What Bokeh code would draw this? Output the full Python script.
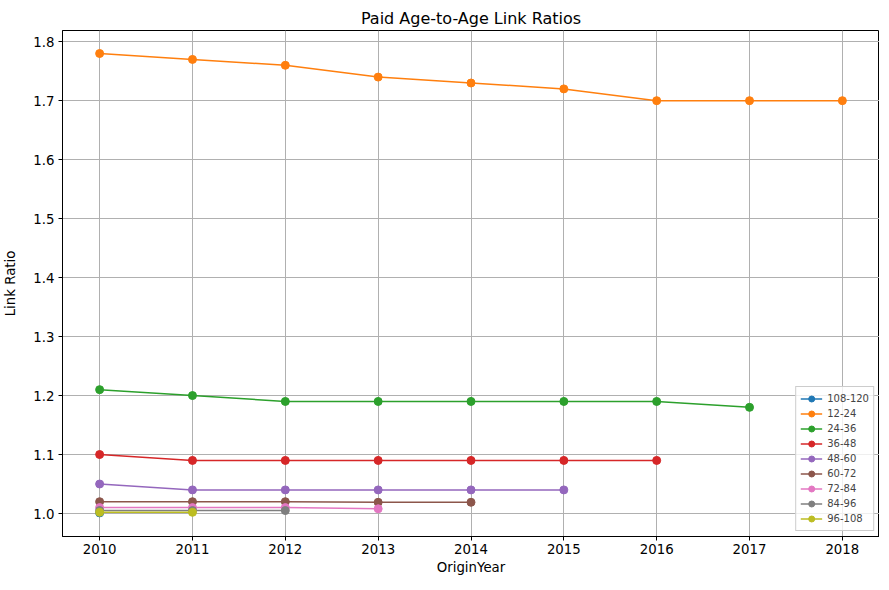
from bokeh.plotting import figure
from bokeh.models import FixedTicker, Range1d, Legend, LegendItem, PrintfTickFormatter
from bokeh.embed import file_html
from bokeh.resources import INLINE

years = [2010, 2011, 2012, 2013, 2014, 2015, 2016, 2017, 2018]

r_108_120 = [1.001]
r_12_24 = [1.78, 1.77, 1.76, 1.74, 1.73, 1.72, 1.70, 1.70, 1.70]
r_24_36 = [1.21, 1.20, 1.19, 1.19, 1.19, 1.19, 1.19, 1.18]
r_36_48 = [1.10, 1.09, 1.09, 1.09, 1.09, 1.09, 1.09]
r_48_60 = [1.05, 1.04, 1.04, 1.04, 1.04, 1.04]
r_60_72 = [1.02, 1.02, 1.02, 1.019, 1.019]
r_72_84 = [1.01, 1.01, 1.01, 1.008]
r_84_96 = [1.005, 1.005, 1.005]
r_96_108 = [1.002, 1.002]

series_names = ["108-120", "12-24", "24-36", "36-48", "48-60", "60-72", "72-84", "84-96", "96-108"]
series_vals = [r_108_120, r_12_24, r_24_36, r_36_48, r_48_60, r_60_72, r_72_84, r_84_96, r_96_108]
colors = ["#1f77b4", "#ff7f0e", "#2ca02c", "#d62728", "#9467bd",
          "#8c564b", "#e377c2", "#7f7f7f", "#bcbd22"]
y_ticks = [1.0, 1.1, 1.2, 1.3, 1.4, 1.5, 1.6, 1.7, 1.8]

FONT = "DejaVu Sans"

p = figure(frame_width=817, frame_height=506,
           output_backend="svg", toolbar_location=None,
           x_range=Range1d(2009.6, 2018.4), y_range=Range1d(0.961, 1.819),
           min_border_left=56, min_border_right=0, min_border_top=30, min_border_bottom=38,
           title="Paid Age-to-Age Link Ratios")

p.title.align = "center"
p.title.text_font = FONT
p.title.text_font_size = "12pt"
p.title.text_font_style = "normal"
p.title.text_color = "black"
p.title.offset = 0
p.title.standoff = 6

p.outline_line_color = "black"
p.outline_line_width = 1

for ax in (p.xaxis[0], p.yaxis[0]):
    ax.axis_line_color = "black"
    ax.major_tick_line_color = "black"
    ax.major_tick_out = 4
    ax.major_tick_in = 0
    ax.minor_tick_line_color = None
    ax.major_label_text_font = FONT
    ax.major_label_text_font_size = "10pt"
    ax.major_label_text_color = "black"
    ax.axis_label_text_font = FONT
    ax.axis_label_text_font_size = "10pt"
    ax.axis_label_text_font_style = "normal"
    ax.axis_label_text_color = "black"

p.xaxis.axis_label = "OriginYear"
p.yaxis.axis_label = "Link Ratio"
p.xaxis.ticker = FixedTicker(ticks=years)
p.yaxis.ticker = FixedTicker(ticks=y_ticks)
p.yaxis.formatter = PrintfTickFormatter(format="%.1f")
p.xaxis.major_label_standoff = 3
p.xaxis.axis_label_standoff = 3
p.yaxis.major_label_standoff = 4
p.yaxis.axis_label_standoff = 12

p.grid.grid_line_color = "#b0b0b0"
p.grid.grid_line_width = 1

items = []
for name, vals, c in zip(series_names, series_vals, colors):
    xs = years[:len(vals)]
    l = p.line(xs, vals, line_color=c, line_width=1.5)
    s = p.scatter(xs, vals, size=8, fill_color=c, line_color=c)
    items.append(LegendItem(label=name, renderers=[l, s]))

legend = Legend(items=items, location="bottom_right")
legend.label_text_font = FONT
legend.label_text_font_size = "7.5pt"
legend.glyph_width = 22
legend.glyph_height = 15
legend.label_height = 15
legend.spacing = 0
legend.padding = 4
legend.margin = 5
legend.border_line_color = "#cccccc"
legend.border_line_alpha = 1
legend.background_fill_alpha = 0.8
legend.label_standoff = 5
p.add_layout(legend)

open("out.html", "w").write(file_html(p, INLINE))
